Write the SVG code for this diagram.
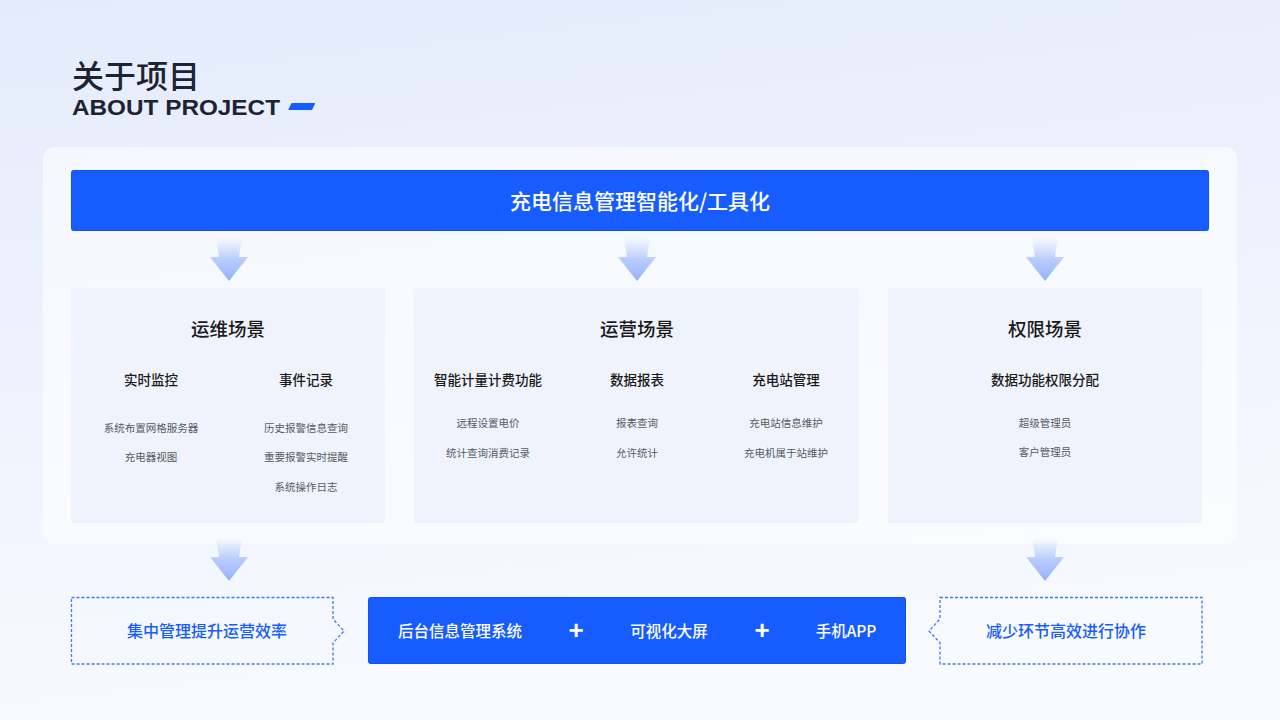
<svg xmlns="http://www.w3.org/2000/svg" width="1280" height="720" viewBox="0 0 1280 720">
<defs>
<linearGradient id="bg" x1="0" y1="0" x2="0.2" y2="1">
<stop offset="0" stop-color="#e4ebfb"/>
<stop offset="1" stop-color="#f7faff"/>
</linearGradient>
<linearGradient id="arr" x1="0" y1="0" x2="0" y2="1">
<stop offset="0" stop-color="#b3c8fb" stop-opacity="0"/>
<stop offset="0.5" stop-color="#a9c1fb" stop-opacity="0.8"/>
<stop offset="1" stop-color="#95b1fa" stop-opacity="1"/>
</linearGradient>
<polygon id="arrow" points="-13,0 13,0 10,19 19,19 0,43 -19,19 -10,19" fill="url(#arr)"/>
<style>
.cn{font-family:"Noto Sans CJK SC","Noto Sans",sans-serif;}
.ttl{font-size:18.5px;font-weight:500;fill:#1a1a1a;text-anchor:middle;dominant-baseline:central;}
.sub{font-size:13.5px;font-weight:500;fill:#1a1a1a;text-anchor:middle;dominant-baseline:central;}
.item{font-size:10.5px;fill:#555a63;text-anchor:middle;dominant-baseline:central;}
.panel{fill:#eff3fb;}
.dash{fill:none;stroke:#4078f6;stroke-width:1.3;stroke-dasharray:3 2;}
.bl{font-size:16px;font-weight:500;fill:#175cff;text-anchor:middle;dominant-baseline:central;}
.wh{font-size:15.5px;font-weight:500;fill:#ffffff;text-anchor:middle;dominant-baseline:central;}
.plus{font-family:"Liberation Sans",Arial,sans-serif;font-size:26px;font-weight:bold;fill:#ffffff;text-anchor:middle;dominant-baseline:central;}
</style>
</defs>
<rect width="1280" height="720" fill="url(#bg)"/>
<g id="header">
<text class="cn" x="72" y="74" font-size="32" font-weight="500" fill="#1d2333" dominant-baseline="central">关于项目</text>
<text x="72" y="115" font-family="Liberation Sans, Arial, sans-serif" font-size="22" font-weight="bold" fill="#1d2333" textLength="208" lengthAdjust="spacingAndGlyphs">ABOUT PROJECT</text>
<path d="M292,103.5 L314.5,103.5 L311.5,109.5 L289,109.5 Z" fill="#175cff" stroke="#175cff" stroke-width="1.2" stroke-linejoin="round"/>
</g>
<rect id="card" x="43" y="147" width="1194" height="397" rx="11" fill="#ffffff" fill-opacity="0.55"/>
<g id="topbar">
<rect x="71.5" y="170.5" width="1137" height="60" rx="2" fill="#175cff" stroke="#0f52ee" stroke-width="1"/>
<text class="cn" x="640" y="199.5" font-size="21" font-weight="500" fill="#ffffff" text-anchor="middle" dominant-baseline="central">充电信息管理智能化/工具化</text>
</g>
<g id="connectors">
<use href="#arrow" x="229" y="238"/>
<use href="#arrow" x="637" y="238"/>
<use href="#arrow" x="1045" y="238"/>
<use href="#arrow" x="229" y="538"/>
<use href="#arrow" x="1045" y="538"/>
</g>
<g id="panel-ops">
<rect class="panel" x="71" y="288" width="314" height="235" rx="3"/>
<text class="cn ttl" x="228" y="327.5">运维场景</text>
<text class="cn sub" x="151" y="379">实时监控</text>
<text class="cn sub" x="306" y="379">事件记录</text>
<text class="cn item" x="151" y="427">系统布置网格服务器</text>
<text class="cn item" x="151" y="456">充电器视图</text>
<text class="cn item" x="306" y="427">历史报警信息查询</text>
<text class="cn item" x="306" y="456">重要报警实时提醒</text>
<text class="cn item" x="306" y="486">系统操作日志</text>
</g>
<g id="panel-biz">
<rect class="panel" x="414" y="288" width="445" height="235" rx="3"/>
<text class="cn ttl" x="637" y="327.5">运营场景</text>
<text class="cn sub" x="488" y="379">智能计量计费功能</text>
<text class="cn sub" x="637" y="379">数据报表</text>
<text class="cn sub" x="786" y="379">充电站管理</text>
<text class="cn item" x="488" y="422">远程设置电价</text>
<text class="cn item" x="488" y="452">统计查询消费记录</text>
<text class="cn item" x="637" y="422">报表查询</text>
<text class="cn item" x="637" y="452">允许统计</text>
<text class="cn item" x="786" y="422">充电站信息维护</text>
<text class="cn item" x="786" y="452">充电机属于站维护</text>
</g>
<g id="panel-auth">
<rect class="panel" x="888" y="288" width="314" height="235" rx="3"/>
<text class="cn ttl" x="1045" y="327.5">权限场景</text>
<text class="cn sub" x="1045" y="379">数据功能权限分配</text>
<text class="cn item" x="1045" y="422">超级管理员</text>
<text class="cn item" x="1045" y="451">客户管理员</text>
</g>
<g id="left-result">
<path class="dash" d="M71.5,597.5 H333 V619 L344,631 L333,643 V664 H71.5 Z"/>
<text class="cn bl" x="207" y="630">集中管理提升运营效率</text>
</g>
<g id="center-result">
<rect x="368.5" y="597.5" width="537" height="66" rx="2" fill="#175cff" stroke="#0f52ee" stroke-width="1"/>
<text class="cn wh" x="460" y="630">后台信息管理系统</text>
<text class="plus" x="576" y="630">+</text>
<text class="cn wh" x="669" y="630">可视化大屏</text>
<text class="plus" x="762" y="630">+</text>
<text class="cn wh" x="846" y="630">手机APP</text>
</g>
<g id="right-result">
<path class="dash" d="M940,597.5 H1202 V664 H940 V643 L929,631 L940,619 Z"/>
<text class="cn bl" x="1066" y="630">减少环节高效进行协作</text>
</g>
</svg>
